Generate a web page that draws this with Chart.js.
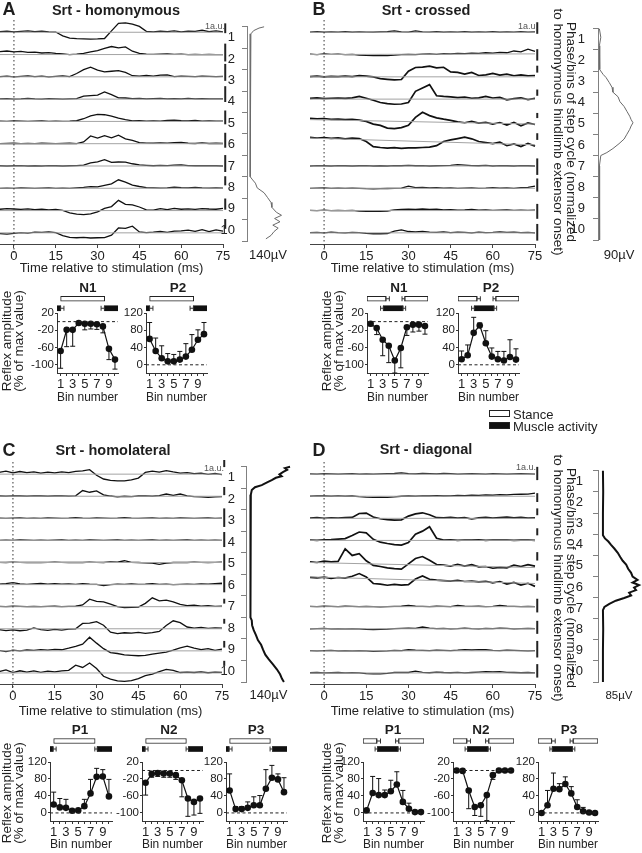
<!DOCTYPE html>
<html>
<head>
<meta charset="utf-8">
<script src="https://cdn.jsdelivr.net/npm/chart.js@4.4.0/dist/chart.umd.min.js"></script>
<style>
body { margin: 0; background: #fff; }
#fig { position: relative; width: 642px; height: 853px; overflow: hidden; background: #fff;
       font-family: "Liberation Sans", Arial, Helvetica, sans-serif; color: #1e1e1e; }
#fig canvas { position: absolute; }
.t { position: absolute; white-space: nowrap; transform: translate(-50%, -50%); line-height: 1; }
.b { font-weight: bold; }
.rotL { position: absolute; white-space: nowrap; text-align: center; font-size: 13.5px; line-height: 12px;
        transform: translate(-50%, -50%) rotate(-90deg); }
.rotR { position: absolute; white-space: nowrap; text-align: center; font-size: 13.5px; line-height: 13px;
        transform: translate(-50%, -50%) rotate(90deg); }
.au { position: absolute; font-size: 9px; color: #555; line-height: 1; }
.box { position: absolute; width: 19px; height: 5px; border: 1px solid #222; }
</style>
</head>
<body>
<div id="fig"></div>
<script>
// ---- data ----
const binNums = ['1', '2', '3', '4', '5', '6', '7', '8', '9', '10'];
const binEdges = [0, 1, 2, 3, 4, 5, 6, 7, 8, 9, 10];
const bins = [1, 2, 3, 4, 5, 6, 7, 8, 9, 10];
const timeTicks = [0, 15, 30, 45, 60, 75];
const traceTimes = [-5, -2.5, 0, 2.5, 5, 7.5, 10, 12.5, 15, 17.5, 20, 22.5, 25, 27.5, 30, 32.5, 35,
  37.5, 40, 42.5, 45, 47.5, 50, 52.5, 55, 57.5, 60, 62.5, 65, 67.5, 70, 72.5, 75];

// EMG traces per bin (a.u., 10 = one row)
const homonymous = [
  [0.3,0.5,0.2,0.4,0.6,0.3,0.5,0.2,0.1,-1.6,-2.6,-2.9,-3.0,-3.1,-3.0,-2.8,0.6,4.0,4.2,3.6,2.6,0.4,0.2,0.5,0.3,0.6,0.2,0.5,0.4,0.9,0.3,0.6,0.2],
  [1.3,1.6,1.2,1.4,1.0,1.1,0.7,0.9,0.5,0.3,0.0,0.2,0.5,1.2,1.8,2.8,3.6,3.0,3.4,1.5,0.5,0.2,0.1,0.2,0.3,0.1,0.2,0.0,0.1,0.0,0.1,0.0,0.0],
  [0.1,0.3,0.0,0.2,0.4,0.1,0.3,0.0,0.2,0.4,0.1,1.5,3.2,4.3,3.0,2.2,2.5,2.8,2.0,0.5,0.3,0.6,0.3,0.8,0.9,0.1,0.3,0.2,0.1,0.3,0.2,0.1,0.2],
  [0.1,0.2,0.0,0.1,0.3,0.1,0.0,0.2,0.1,0.0,0.1,0.2,1.3,1.6,1.8,3.2,2.0,0.6,0.5,0.2,0.3,0.1,0.2,0.3,0.1,0.2,0.1,0.3,0.1,0.2,0.1,0.1,0.1],
  [0.1,0.0,0.2,0.1,0.0,0.1,0.2,0.0,0.1,0.0,0.1,0.3,1.2,2.5,3.2,3.0,2.4,1.5,0.8,0.2,0.3,0.1,0.2,0.1,0.4,0.6,0.3,0.2,0.4,0.1,0.2,0.1,0.1],
  [0.0,0.1,0.2,0.0,0.1,0.0,0.2,0.1,0.0,0.1,0.2,0.0,0.8,3.5,2.5,3.6,2.6,3.8,2.2,1.5,0.5,0.3,0.2,0.4,0.3,0.5,0.6,0.2,0.1,0.4,0.1,0.2,0.1],
  [0.1,0.0,0.1,0.2,0.0,0.1,0.0,0.2,0.1,0.0,0.1,0.2,0.4,1.4,1.8,2.8,1.6,1.8,1.7,1.0,0.5,0.3,0.1,0.3,0.2,0.4,0.5,0.2,0.1,0.2,0.1,0.1,0.0],
  [0.0,0.1,0.0,0.2,0.1,0.0,0.1,0.2,0.0,0.1,0.0,0.2,0.4,0.7,0.6,1.3,2.0,3.8,2.8,1.4,0.8,0.3,0.2,0.1,0.2,0.5,0.3,0.2,0.4,0.2,0.1,0.2,0.1],
  [0.6,0.9,0.7,0.5,0.8,0.4,0.6,0.3,0.5,0.1,-1.0,-1.6,-1.8,-1.5,-0.6,1.0,1.8,4.6,2.8,2.6,1.6,0.3,0.2,0.9,0.4,1.0,0.6,0.8,0.5,0.9,0.7,0.6,1.0],
  [-0.3,-0.6,-0.2,0.1,-0.1,0.3,0.2,0.4,0.1,-1.2,-2.0,-2.2,-2.0,-2.3,-2.2,-2.1,-1.0,2.2,2.0,3.0,0.4,0.1,0.3,0.6,0.2,0.8,0.9,1.2,0.7,1.4,0.6,1.3,0.8]
];
const crossed = [
  [0.1,0.3,0.0,0.2,0.1,0.3,0.0,0.2,0.1,0.0,0.2,0.3,0.6,0.2,0.1,0.6,0.2,0.1,0.3,0.0,0.2,0.1,0.3,0.0,0.2,0.1,0.3,0.0,0.2,0.1,0.3,0.1,0.2],
  [0.2,0.0,0.3,0.1,0.2,0.0,0.1,-0.2,-0.4,-0.5,-0.4,-0.5,-0.3,0.0,0.1,0.0,0.2,0.3,0.1,0.4,0.3,0.5,0.4,0.6,0.5,0.8,0.6,1.0,0.8,1.6,1.2,2.4,1.4],
  [0.1,0.3,0.0,0.2,0.1,0.3,0.1,0.5,0.3,0.0,-0.8,-1.1,-1.4,-1.2,2.5,4.2,4.4,4.8,4.0,4.3,2.2,2.0,1.2,2.0,0.6,0.9,1.5,0.8,1.2,0.5,0.9,0.4,0.6],
  [0.3,0.6,0.2,0.4,0.5,0.3,0.6,1.2,0.4,-0.5,-1.5,-2.0,-2.3,-2.2,-1.5,3.5,5.0,6.5,1.5,1.2,1.0,0.7,0.9,0.4,0.6,1.2,0.5,0.8,-0.3,0.2,0.6,-0.2,0.3],
  [1.4,1.1,1.3,0.9,1.0,0.8,0.9,0.6,0.0,-1.2,-1.8,-3.0,-3.2,-2.8,-1.7,1.8,4.1,2.6,1.6,1.0,0.5,-0.2,-0.6,0.0,-0.8,-0.4,-1.2,-0.5,-1.6,-0.4,-2.0,-0.7,-1.4],
  [2.8,2.5,2.7,2.4,2.6,2.2,2.5,2.3,1.0,-1.3,-1.7,-2.0,-1.8,-2.1,-1.9,-1.9,-1.7,-1.5,-0.9,1.0,1.7,2.3,2.9,2.2,1.0,0.5,0.0,0.7,-0.9,-0.1,-1.3,0.1,-1.1],
  [0.0,0.2,0.1,0.0,0.2,0.1,0.0,0.1,0.2,0.0,0.1,0.0,0.2,0.1,0.3,0.1,0.2,0.0,0.1,0.2,0.3,0.6,0.4,0.2,0.1,0.3,0.0,0.2,0.1,0.0,0.2,0.1,0.0],
  [0.0,0.1,0.2,0.0,0.1,0.0,0.1,0.0,-0.2,-0.3,-0.2,-0.1,0.0,0.1,1.0,0.3,0.4,0.2,0.3,0.1,0.2,0.0,0.1,0.2,0.0,0.1,0.3,0.1,0.2,0.0,0.3,0.4,1.0],
  [0.1,0.0,0.2,0.0,0.1,0.0,0.1,-0.2,-0.3,-0.4,-0.3,-0.2,0.3,0.5,0.6,0.5,0.7,0.5,0.6,0.3,0.4,0.2,0.3,0.5,0.2,0.3,0.1,0.2,0.3,0.1,0.2,0.1,0.2],
  [0.1,0.2,0.0,0.3,0.1,0.0,0.2,0.1,-0.2,-0.4,-0.4,-0.3,0.8,1.3,0.6,0.4,0.7,0.3,0.2,0.4,0.1,0.3,0.2,0.0,0.3,0.1,0.2,0.4,0.2,0.3,0.1,0.2,0.0]
];
const homolateral = [
  [0.8,1.4,0.6,1.2,0.7,1.0,0.5,0.9,0.6,1.0,0.7,1.3,1.5,2.0,-0.5,-2.2,-2.8,-3.0,-3.0,-2.6,-1.8,0.8,1.4,0.9,1.6,1.0,0.5,0.7,0.2,0.5,-0.1,0.3,-0.2],
  [0.1,0.0,0.2,0.1,0.0,0.2,0.1,0.0,0.1,0.2,0.0,0.2,2.6,1.8,2.4,0.6,0.1,-0.3,0.0,-0.2,0.1,0.2,0.0,0.3,1.0,0.4,1.0,0.2,-0.2,-0.3,-0.5,-0.3,-0.2],
  [0.1,0.0,0.1,0.2,0.0,0.1,0.0,0.2,0.1,0.0,0.1,0.3,0.1,0.0,0.2,0.1,0.0,0.1,0.3,0.1,0.0,0.1,0.2,0.0,0.1,0.0,0.2,0.1,0.0,0.1,0.2,0.0,0.1],
  [0.0,0.1,0.0,0.2,0.1,0.0,0.1,0.0,0.1,0.2,0.0,0.1,0.0,0.2,0.1,0.0,0.1,0.2,0.0,0.1,0.0,0.1,0.2,0.0,0.1,0.0,0.1,0.2,0.0,0.1,0.0,0.1,0.0],
  [0.1,0.0,0.2,0.1,0.0,0.1,0.0,0.1,0.2,0.1,0.0,0.1,0.0,0.2,0.1,0.0,0.3,0.2,0.8,0.1,0.0,-0.2,-0.3,-0.8,-0.3,0.0,0.1,0.0,0.2,0.1,0.0,0.1,0.2],
  [0.2,0.4,0.9,0.3,0.1,0.3,0.5,0.2,0.4,0.2,0.3,0.1,0.4,0.2,0.1,-0.5,0.0,0.2,0.1,0.3,0.1,0.2,0.4,0.1,0.2,0.0,0.1,0.2,0.1,0.3,0.2,0.4,0.6],
  [0.1,0.0,0.2,0.1,0.0,0.1,0.0,0.1,0.2,0.0,0.1,0.2,0.8,3.4,2.4,2.2,1.2,0.0,-0.4,-0.3,-0.2,1.5,4.0,2.6,3.0,2.2,1.0,0.5,0.7,0.3,0.5,0.1,0.2],
  [-0.4,-0.8,-0.5,-0.9,-0.6,0.4,-0.4,-0.7,-0.3,-0.6,-0.2,0.0,2.4,2.6,3.2,1.6,-1.5,-2.2,-1.8,-2.0,-1.6,-2.1,-1.7,-1.2,1.5,3.6,2.8,0.8,0.3,0.6,0.2,0.4,0.3],
  [0.2,-0.3,0.3,0.0,0.4,0.2,0.6,0.3,0.7,0.5,1.2,2.0,3.0,6.2,3.5,1.0,-0.8,-1.2,-1.8,-2.0,-2.2,-2.0,-1.5,-1.0,-0.6,0.3,1.4,2.1,1.2,0.6,1.0,0.2,0.8],
  [0.6,1.4,0.2,1.0,0.4,0.9,0.3,0.8,0.5,0.9,1.2,3.5,2.5,4.5,2.0,-1.5,-2.8,-3.6,-3.8,-3.5,-2.6,-1.2,-0.5,0.6,1.6,1.2,0.2,0.4,0.2,0.5,0.1,0.4,0.3]
];
const diagonal = [
  [0.1,0.0,0.2,0.1,0.0,0.1,0.2,0.0,0.1,0.0,0.1,0.2,0.3,0.6,0.2,0.1,0.3,0.2,0.1,0.3,0.2,0.0,0.1,0.2,0.1,0.0,0.2,0.1,0.0,0.1,0.2,0.1,0.0],
  [0.0,0.2,0.1,0.0,0.2,0.0,0.1,-0.2,-0.4,-0.5,-0.4,-0.5,-0.3,0.0,0.1,0.0,0.2,0.1,0.3,0.1,0.2,0.4,0.3,0.5,0.4,0.6,0.5,0.7,0.6,0.8,0.9,1.0,1.4],
  [0.1,0.3,0.0,0.2,0.1,0.3,0.4,2.2,2.4,0.6,-0.2,-0.6,-0.8,-0.7,1.0,2.0,2.5,1.6,0.3,0.2,0.4,0.1,0.3,-0.3,0.2,0.4,0.1,0.3,0.5,0.2,0.4,0.1,0.2],
  [0.2,0.0,0.3,0.4,0.6,0.8,2.2,3.8,3.4,0.5,-0.8,-1.4,-1.9,-2.1,-1.0,2.8,4.2,6.2,1.0,0.2,0.3,0.0,0.2,0.1,0.3,0.0,0.2,0.1,0.2,0.0,0.1,0.2,0.0],
  [0.3,0.0,0.6,0.3,0.5,6.2,3.2,4.0,0.8,-1.3,-1.8,-2.4,-2.8,-3.0,-0.6,1.8,2.7,1.0,-0.9,-1.2,-1.6,-0.8,-1.6,-1.0,-2.0,-1.8,-2.6,-2.2,-2.4,-1.2,-1.8,-1.0,-1.6],
  [3.3,3.0,3.4,2.8,3.2,2.9,3.8,5.0,3.5,0.5,0.2,-0.3,0.1,-0.2,0.0,2.5,3.9,2.4,2.0,1.8,1.6,1.9,1.4,1.6,1.2,1.5,0.8,1.4,0.2,1.0,-0.2,0.6,-0.8],
  [0.1,0.0,0.2,0.1,0.0,0.2,0.1,0.0,0.1,0.0,-0.1,0.0,0.1,0.2,0.6,0.2,0.1,0.0,0.2,0.1,0.0,0.6,0.3,0.1,0.2,0.0,0.1,0.6,0.2,0.1,0.0,0.1,0.0],
  [0.0,0.1,0.2,0.0,0.1,0.0,0.1,0.0,-0.3,-0.4,-0.3,-0.2,0.1,0.2,0.3,0.2,0.8,0.3,0.1,0.2,0.0,0.1,0.3,0.1,0.0,0.2,0.1,0.3,0.2,0.0,0.1,0.2,0.1],
  [0.1,0.0,0.1,0.2,0.0,0.1,0.0,0.1,0.0,-0.2,-0.1,0.0,0.2,0.1,0.5,0.3,0.2,0.1,0.3,0.2,0.1,0.3,0.6,0.4,0.6,0.5,0.2,0.1,0.3,0.2,0.1,0.0,0.1],
  [0.1,0.2,0.0,0.1,0.2,0.0,0.1,0.0,-0.3,-0.4,-0.4,-0.2,0.2,0.3,0.2,0.8,0.3,0.1,0.4,0.2,0.1,0.3,0.0,0.2,0.4,0.6,0.5,0.6,0.3,0.2,0.1,0.2,0.0]
];

// control (grey) traces: value at -5 ms and at 75 ms
const controlA = [[0,0],[0,0],[0,0],[0,0],[0,0],[0,0],[0,0],[0,0],[0,0],[0,0]];
const controlB = [[0,0],[0,0.3],[0,0],[0,0],[0.8,-1.2],[2.5,-0.5],[0,0],[0,0],[0,0],[0,0]];
const controlC = [[0,0],[0,0],[0,0],[0,0],[0,0],[0,0],[0,0],[0,0],[0,0],[0,0]];
const controlD = [[0,0],[0,0],[0,0],[0,0],[0,-2.3],[3.5,0.5],[0,0],[0,0],[0,0],[0,0]];

// 1 a.u. scale bars (low, high)
const scaleBarA = [[-0.4,4],[-3.1,4.9],[-1.8,5.8],[-1.3,5.8],[-1.3,4.9],[-1.8,4.9],[-2.7,4.9],[1.3,5.4],[0.4,5.4],[1.8,6.2]];
const scaleBarB = [[-0.7,4.5],[-2.7,2.4],[1.9,5],[1.5,4.3],[1.5,3.8],[1.7,4.7],[-4,3.4],[-1.5,4.4],[-3.7,3],[-3.5,4]];
const scaleBarC = [[3.2,6.4],[0.5,4.2],[-3.9,4.5],[-3,3.8],[-3.6,4],[-3.5,4],[1.4,3.6],[2.3,4.5],[1.5,4.5],[3.2,5.5]];
const scaleBarD = [[-2.7,3.3],[-2.6,1.4],[1.4,4.5],[2.3,5.5],[0.9,4.7],[1.8,5],[-2.6,3.6],[-2.3,3.6],[-3,4.5],[-2.1,4]];

// mean EMG over the step cycle (phase in bins, amplitude in uV)
const histPhaseA = [0,0.06,0.18,0.33,0.64,1.0,1.5,2.0,2.5,3.0,3.5,4.0,4.5,5.0,5.5,6.0,6.5,7.0,7.15,7.3,7.52,7.75,7.98,8.2,8.43,8.66,8.8,8.95,9.1,9.26,9.4,9.56,9.74,9.9];
const histAmpA = [57,40,22,13,10.5,10,11,10,10.5,10,11,10,10.5,11,10,10.5,11,13,19,28,34,57,69,80,83,98,115,92,110,86,104,90,80,63];
const histPhaseB = [0,0.4,0.8,1.2,1.6,1.93,2.16,2.3,2.54,2.77,3.0,3.22,3.45,3.68,3.91,4.14,4.3,4.45,4.6,4.76,4.99,5.22,5.44,5.67,5.86,6.0,6.5,7.0,7.5,8.0,8.5,9.0,9.5,10.0];
const histAmpB = [3,6,3,4,3,4,11,17,24,30,32,43,47,56,62,68,71,75,71,68,62,56,45,32,19,6,3,4,3,3,4,3,3,4];
const histPhaseC = [0,0.06,0.14,0.24,0.35,0.44,0.51,0.62,0.74,0.85,0.95,1.08,1.3,1.68,2.5,3.5,4.5,5.5,6.5,7.0,7.14,7.36,7.59,7.82,8.05,8.27,8.5,8.73,8.95,9.18,9.41,9.64,9.85,10.0];
const histAmpC = [137,121,128,116,104,111,93,80,64,49,28,18,15,14,13,14,13,14,14,15,18,19,24,31,37,47,53,60,71,84,96,106,112,118];
const histPhaseD = [0,1,2,3.05,3.2,3.35,3.5,3.68,3.88,4.08,4.26,4.44,4.64,4.83,5.01,5.17,5.29,5.41,5.53,5.65,5.77,5.9,6.02,6.15,6.3,6.45,6.6,7.5,8.5,10];
const histAmpD = [10,10.5,10,10,14,21,26,33,40,45,50,57,61,67,70,80,70,83,73,77,63,67,53,36,23,13,10,10.5,10,10];

// reflex amplitude (% of max value) per bin, with SD
const homN1 = [-68,-19,-19,-3,-5,-5,-6,-11,-63,-88];
const homN1Sd = [40,39,38,4,14,12,12,15,25,22];
const homP2 = [60,32,15,8,8,12,19,35,58,71];
const homP2Sd = [38,30,29,18,16,19,30,35,23,27];
const crosN1 = [-5,-15,-42,-56,-90,-61,-13,-7,-7,-10];
const crosN1Sd = [5,15,37,39,29,46,19,17,15,19];
const crosP2 = [13,22,74,91,50,19,13,10,18,12];
const crosP2Sd = [19,24,36,6,29,20,18,21,40,25];
const latP1 = [20,13,12,5,6,16,46,85,86,39];
const latP1Sd = [29,21,20,4,3,16,33,20,16,40];
const latN2 = [-29,-8,-6,-7,-7,-11,-23,-66,-74,-66];
const latN2Sd = [29,8,8,9,9,10,39,42,31,35];
const latP3 = [53,9,9,12,18,18,57,83,79,49];
const latP3Sd = [39,6,6,14,20,23,45,29,13,34];
const diaP1 = [6,47,42,42,51,67,26,10,2,2];
const diaP1Sd = [3,39,39,12,26,30,27,13,1,0];
const diaN2 = [0,-1,-47,-86,-82,-58,-11,0,0,0];
const diaN2Sd = [0,2,43,20,26,60,10,0,0,0];
const diaP3 = [0,18,57,56,68,46,14,4,1,0];
const diaP3Sd = [0,35,37,13,17,16,17,9,2,0];

// stance and muscle activity, in bin units
const stanceA = [[1.0, 8.3]];
const muscleA = [[0.4, 1.0], [8.25, 10.5]];
const stanceSdA = [];
const muscleSdA = [[1.0, 1.55], [7.7, 8.25]];
const stanceB = [[0.4, 3.55], [6.65, 10.5]];
const muscleB = [[3.1, 6.35]];
const stanceSdB = [[3.55, 4.1], [6.2, 6.65]];
const muscleSdB = [[2.65, 3.1], [6.35, 6.8]];
const stanceC = [[1.0, 7.75]];
const muscleC = [[0.4, 0.9], [8.1, 10.5]];
const stanceSdC = [];
const muscleSdC = [[0.9, 1.4], [7.7, 8.1]];
const stanceD = [[0.4, 2.7], [6.3, 10.5]];
const muscleD = [[2.8, 6.2]];
const stanceSdD = [[2.7, 3.3], [5.8, 6.3]];
const muscleSdD = [[2.4, 2.8], [6.2, 6.6]];

// ---- drawing ----
Chart.defaults.font.family = '"Liberation Sans", Arial, Helvetica, sans-serif';
Chart.defaults.color = '#1e1e1e';
Chart.defaults.animation = false;
Chart.defaults.events = [];
Chart.defaults.plugins.legend.display = false;
Chart.defaults.plugins.tooltip.enabled = false;

const fig = document.getElementById('fig');

function canvasAt(x, y, w, h) {
  const c = document.createElement('canvas');
  c.width = w; c.height = h;
  c.style.left = x + 'px'; c.style.top = y + 'px';
  c.style.width = w + 'px'; c.style.height = h + 'px';
  fig.appendChild(c);
  return c;
}

function txt(s, x, y, cls, size) {
  const d = document.createElement('div');
  d.className = cls;
  d.innerHTML = s;
  d.style.left = x + 'px'; d.style.top = y + 'px';
  if (size) d.style.fontSize = size + 'px';
  fig.appendChild(d);
  return d;
}

function traceChart(a, traces, control, bars, axisH, bold) {
  const padL = 4, padT = 8, padR = 14;
  const cv = canvasAt(a.l - padL, a.t - padT, a.r - a.l + padL + padR, a.b - a.t + padT + axisH);
  const ds = [];
  ds.push({ data: [{ x: 0, y: 5.5 }, { x: 0, y: -99 }], borderColor: '#333', borderWidth: 1, borderDash: [1.5, 2.5] });
  traces.forEach((vals, i) => {
    const base = -10 * i;
    ds.push({ data: [{ x: traceTimes[0], y: base + control[i][0] }, { x: 75, y: base + control[i][1] }],
              borderColor: '#a3a3a3', borderWidth: 1 });
    ds.push({ data: vals.map((v, j) => ({ x: traceTimes[j], y: base + v })),
              borderColor: '#111', borderWidth: bold.includes(i + 1) ? 1.7 : 1.3 });
    ds.push({ data: [{ x: 75.8, y: base + bars[i][0] }, { x: 75.8, y: base + bars[i][1] }],
              borderColor: '#222', borderWidth: 2 });
  });
  new Chart(cv, {
    type: 'line',
    data: { datasets: ds.map(d => Object.assign({ pointRadius: 0, fill: false, tension: 0, clip: false }, d)) },
    options: {
      responsive: false,
      layout: { padding: { left: padL, top: padT, right: padR, bottom: 0 }, autoPadding: false },
      scales: {
        x: {
          type: 'linear', min: -5, max: 75,
          afterBuildTicks: s => { s.ticks = timeTicks.map(v => ({ value: v })); },
          ticks: { font: { size: 13 }, color: '#222', padding: 1, maxRotation: 0, autoSkip: false },
          grid: { drawOnChartArea: false, drawTicks: true, tickLength: 4, color: '#444' },
          border: { color: '#444' },
          title: { display: true, text: 'Time relative to stimulation (ms)', font: { size: 13 }, color: '#222', padding: 0 },
          afterFit: s => { s.height = axisH; }
        },
        y: { type: 'linear', display: false, min: -95, max: 5.5 }
      }
    }
  });
}

function histChart(a, phase, amp, maxV, label, color, width, numPad, labelSize) {
  const numW = 26, padT = 6, padR = 4;
  const cv = canvasAt(a.l - numW, a.t - padT, a.r - a.l + numW + padR, a.b - a.t + padT + a.axH);
  new Chart(cv, {
    type: 'line',
    data: { datasets: [{ data: phase.map((p, i) => ({ x: amp[i], y: p })), borderColor: color, borderWidth: width,
                         pointRadius: 0, tension: 0, clip: false }] },
    options: {
      indexAxis: 'y', responsive: false,
      layout: { padding: { left: 0, top: padT, right: padR, bottom: 0 }, autoPadding: false },
      scales: {
        x: { type: 'linear', min: 0, max: maxV, ticks: { display: false }, grid: { display: false }, border: { display: false },
             title: { display: true, text: label, font: { size: labelSize }, color: '#222', padding: 0 },
             afterFit: s => { s.height = a.axH; } },
        y: { type: 'linear', min: 0, max: 10, reverse: true, position: 'left', weight: 0,
             afterBuildTicks: s => { s.ticks = binEdges.map(v => ({ value: v })); },
             ticks: { display: false },
             grid: { drawOnChartArea: false, drawTicks: true, tickLength: 5, color: '#808080' },
             border: { color: '#808080' },
             afterFit: s => { s.width = 0; } },
        yn: { type: 'linear', min: 0, max: 10, reverse: true, position: 'left', weight: 1,
              afterBuildTicks: s => { s.ticks = binNums.map((b, i) => ({ value: i + 0.5 })); },
              ticks: { callback: (v, i) => binNums[i], font: { size: 13 }, color: '#222', padding: numPad, autoSkip: false },
              grid: { display: false }, border: { display: false },
              afterFit: s => { s.width = numW; } }
      }
    }
  });
}

function errorBars(vals, sd, dir) {
  return {
    id: 'errorBars',
    beforeDatasetsDraw(chart) {
      const { ctx, scales: { x, y } } = chart;
      ctx.save();
      ctx.strokeStyle = '#111';
      ctx.lineWidth = 1;
      vals.forEach((v, i) => {
        if (!sd[i]) return;
        const px = x.getPixelForValue(bins[i]);
        const y0 = y.getPixelForValue(v), y1 = y.getPixelForValue(v + dir * sd[i]);
        ctx.beginPath();
        ctx.moveTo(px, y0); ctx.lineTo(px, y1);
        ctx.moveTo(px - 2.5, y1); ctx.lineTo(px + 2.5, y1);
        ctx.stroke();
      });
      ctx.restore();
    }
  };
}

function reflexChart(a, vals, sd, dir, yMin, yMax, yTicks) {
  const axW = 40, padT = 8, padR = 8;
  const cv = canvasAt(a.l - axW, a.t - padT, a.r - a.l + axW + padR, a.b - a.t + padT + a.axH);
  new Chart(cv, {
    type: 'line',
    data: { datasets: [
      { data: [{ x: 0.4, y: 0 }, { x: 10.5, y: 0 }], borderColor: '#222', borderWidth: 1, borderDash: [3, 2.5], pointRadius: 0 },
      { data: bins.map((b, i) => ({ x: b, y: vals[i] })), borderColor: '#111', borderWidth: 1.2,
        pointRadius: 3.3, pointBackgroundColor: '#111', pointBorderWidth: 0, clip: false }
    ] },
    options: {
      responsive: false,
      layout: { padding: { left: 0, top: padT, right: padR, bottom: 0 }, autoPadding: false },
      scales: {
        x: { type: 'linear', min: 0.4, max: 10.5,
             afterBuildTicks: s => { s.ticks = bins.map(v => ({ value: v })); },
             ticks: { callback: v => (v % 2 ? String(v) : ''), autoSkip: false, maxRotation: 0, font: { size: 13 }, color: '#222', padding: 1 },
             grid: { drawOnChartArea: false, tickLength: 3, color: '#333' },
             border: { color: '#333' },
             title: { display: true, text: 'Bin number', font: { size: 13 }, color: '#222', padding: 0 },
             afterFit: s => { s.height = a.axH; } },
        y: { type: 'linear', min: yMin, max: yMax,
             afterBuildTicks: s => { s.ticks = yTicks.map(v => ({ value: v })); },
             ticks: { font: { size: 11.5 }, color: '#222', padding: 1 },
             grid: { drawOnChartArea: false, tickLength: 2, color: '#333' },
             border: { color: '#333' },
             afterFit: s => { s.width = axW; } }
      }
    },
    plugins: [errorBars(vals, sd, dir)]
  });
}

function sdBrackets(stSd, muSd) {
  return {
    id: 'sdBrackets',
    afterDatasetsDraw(chart) {
      const { ctx, scales: { x, y } } = chart;
      ctx.save();
      ctx.strokeStyle = '#333';
      ctx.lineWidth = 1;
      [stSd, muSd].forEach((list, row) => list.forEach(([s, e]) => {
        const yy = y.getPixelForValue(row), x0 = x.getPixelForValue(s), x1 = x.getPixelForValue(e);
        ctx.beginPath();
        ctx.moveTo(x0, yy); ctx.lineTo(x1, yy);
        ctx.moveTo(x0, yy - 2.5); ctx.lineTo(x0, yy + 2.5);
        ctx.moveTo(x1, yy - 2.5); ctx.lineTo(x1, yy + 2.5);
        ctx.stroke();
      }));
      ctx.restore();
    }
  };
}

function phaseBars(a, stance, muscle, stSd, muSd) {
  const pad = 4;
  const cv = canvasAt(a.l - pad, a.t, a.r - a.l + 2 * pad, a.b - a.t);
  const ds = [];
  stance.forEach(s => ds.push({ data: [s, null], backgroundColor: '#fff', borderColor: '#222', borderWidth: 1 }));
  muscle.forEach(s => ds.push({ data: [null, s], backgroundColor: '#111', borderColor: '#111', borderWidth: 0 }));
  new Chart(cv, {
    type: 'bar',
    data: { labels: ['Stance', 'Muscle activity'],
            datasets: ds.map(d => Object.assign({ barThickness: 5, grouped: false, borderSkipped: false }, d)) },
    options: {
      indexAxis: 'y', responsive: false,
      layout: { padding: { left: pad, right: pad, top: 0, bottom: 0 }, autoPadding: false },
      scales: { x: { type: 'linear', min: 0.4, max: 10.5, display: false },
                y: { type: 'category', display: false } }
    },
    plugins: [sdBrackets(stSd, muSd)]
  });
}

// trace panels
traceChart({ l: 0, r: 223, t: 20, b: 244 }, homonymous, controlA, scaleBarA, 32, []);
traceChart({ l: 310, r: 535, t: 20, b: 244 }, crossed, controlB, scaleBarB, 32, [3, 4, 5, 6]);
traceChart({ l: -1, r: 222, t: 462, b: 684 }, homolateral, controlC, scaleBarC, 35, []);
traceChart({ l: 310, r: 535, t: 462, b: 684 }, diagonal, controlD, scaleBarD, 35, [3, 4, 5, 6]);

// step-cycle profiles
histChart({ l: 247, r: 289, t: 21, b: 241, axH: 22 }, histPhaseA, histAmpA, 140, '140µV', '#6a6a6a', 1, 4, 13);
histChart({ l: 598, r: 640, t: 22, b: 240, axH: 23 }, histPhaseB, histAmpB, 90, '90µV', '#6a6a6a', 1, 5, 13);
histChart({ l: 246, r: 291, t: 462, b: 682, axH: 21 }, histPhaseC, histAmpC, 140, '140µV', '#111', 2, 3, 13);
histChart({ l: 598, r: 640, t: 462, b: 682, axH: 21 }, histPhaseD, histAmpD, 85, '85µV', '#111', 2, 7, 11.5);

// reflex amplitude plots
const negTicks = [20, -20, -60, -100];
const posTicks = [120, 80, 40, 0];
const rowAB = { t: 313, b: 373, axH: 32 };
const rowCD = { t: 762, b: 821, axH: 31 };
const barsAB = { t: 294, b: 313 };
const barsCD = { t: 737, b: 753 };

function plotAt(l, r, row, bar, vals, sd, neg, st, mu, stSd, muSd) {
  reflexChart(Object.assign({ l: l, r: r }, row), vals, sd, neg ? -1 : 1, neg ? -119 : -19, neg ? 20 : 120, neg ? negTicks : posTicks);
  phaseBars(Object.assign({ l: l, r: r }, bar), st, mu, stSd, muSd);
}

plotAt(57, 118, rowAB, barsAB, homN1, homN1Sd, true, stanceA, muscleA, stanceSdA, muscleSdA);
plotAt(146, 207, rowAB, barsAB, homP2, homP2Sd, false, stanceA, muscleA, stanceSdA, muscleSdA);
plotAt(367, 428, rowAB, barsAB, crosN1, crosN1Sd, true, stanceB, muscleB, stanceSdB, muscleSdB);
plotAt(458, 519, rowAB, barsAB, crosP2, crosP2Sd, false, stanceB, muscleB, stanceSdB, muscleSdB);
plotAt(50, 112, rowCD, barsCD, latP1, latP1Sd, false, stanceC, muscleC, stanceSdC, muscleSdC);
plotAt(142, 203, rowCD, barsCD, latN2, latN2Sd, true, stanceC, muscleC, stanceSdC, muscleSdC);
plotAt(226, 287, rowCD, barsCD, latP3, latP3Sd, false, stanceC, muscleC, stanceSdC, muscleSdC);
plotAt(363, 424, rowCD, barsCD, diaP1, diaP1Sd, false, stanceD, muscleD, stanceSdD, muscleSdD);
plotAt(453, 514, rowCD, barsCD, diaN2, diaN2Sd, true, stanceD, muscleD, stanceSdD, muscleSdD);
plotAt(538, 598, rowCD, barsCD, diaP3, diaP3Sd, false, stanceD, muscleD, stanceSdD, muscleSdD);

// ---- text ----
txt('A', 9, 9, 't b', 18);
txt('Srt - homonymous', 116, 9.5, 't b', 14.5);
txt('B', 319, 9, 't b', 18);
txt('Srt - crossed', 426, 9.5, 't b', 14.5);
txt('C', 9, 450, 't b', 18);
txt('Srt - homolateral', 113, 450, 't b', 14.5);
txt('D', 319, 450, 't b', 18);
txt('Srt - diagonal', 426, 449, 't b', 14.5);

txt('1a.u.', 205, 22, 'au');
txt('1a.u.', 518, 22, 'au');
txt('1a.u.', 204, 464, 'au');
txt('1a.u.', 516, 463, 'au');

const phaseLabel = 'Phase/bins of step cycle (normalized<br>to homonymous hindlimb extensor onset)';
txt(phaseLabel, 565, 132, 'rotR');
txt(phaseLabel, 565, 578, 'rotR');

const ampLabel = 'Reflex amplitude<br>(% of max value)';
txt(ampLabel, 13, 341, 'rotL');
txt(ampLabel, 333, 341, 'rotL');
txt(ampLabel, 13, 793, 'rotL');
txt(ampLabel, 333, 793, 'rotL');

txt('N1', 88, 288, 't b', 13.5);
txt('P2', 178, 288, 't b', 13.5);
txt('N1', 399, 288, 't b', 13.5);
txt('P2', 491, 288, 't b', 13.5);
txt('P1', 80, 730, 't b', 13.5);
txt('N2', 169, 730, 't b', 13.5);
txt('P3', 256, 730, 't b', 13.5);
txt('P1', 393, 730, 't b', 13.5);
txt('N2', 481, 730, 't b', 13.5);
txt('P3', 569, 730, 't b', 13.5);

// legend
const lb1 = document.createElement('div');
lb1.className = 'box'; lb1.style.left = '489px'; lb1.style.top = '410px'; lb1.style.background = '#fff';
fig.appendChild(lb1);
const lb2 = document.createElement('div');
lb2.className = 'box'; lb2.style.left = '489px'; lb2.style.top = '422px'; lb2.style.background = '#111';
fig.appendChild(lb2);
txt('Stance', 513, 413.5, 't', 13).style.transform = 'translate(0, -50%)';
txt('Muscle activity', 513, 425.5, 't', 13).style.transform = 'translate(0, -50%)';
</script>
</body>
</html>
